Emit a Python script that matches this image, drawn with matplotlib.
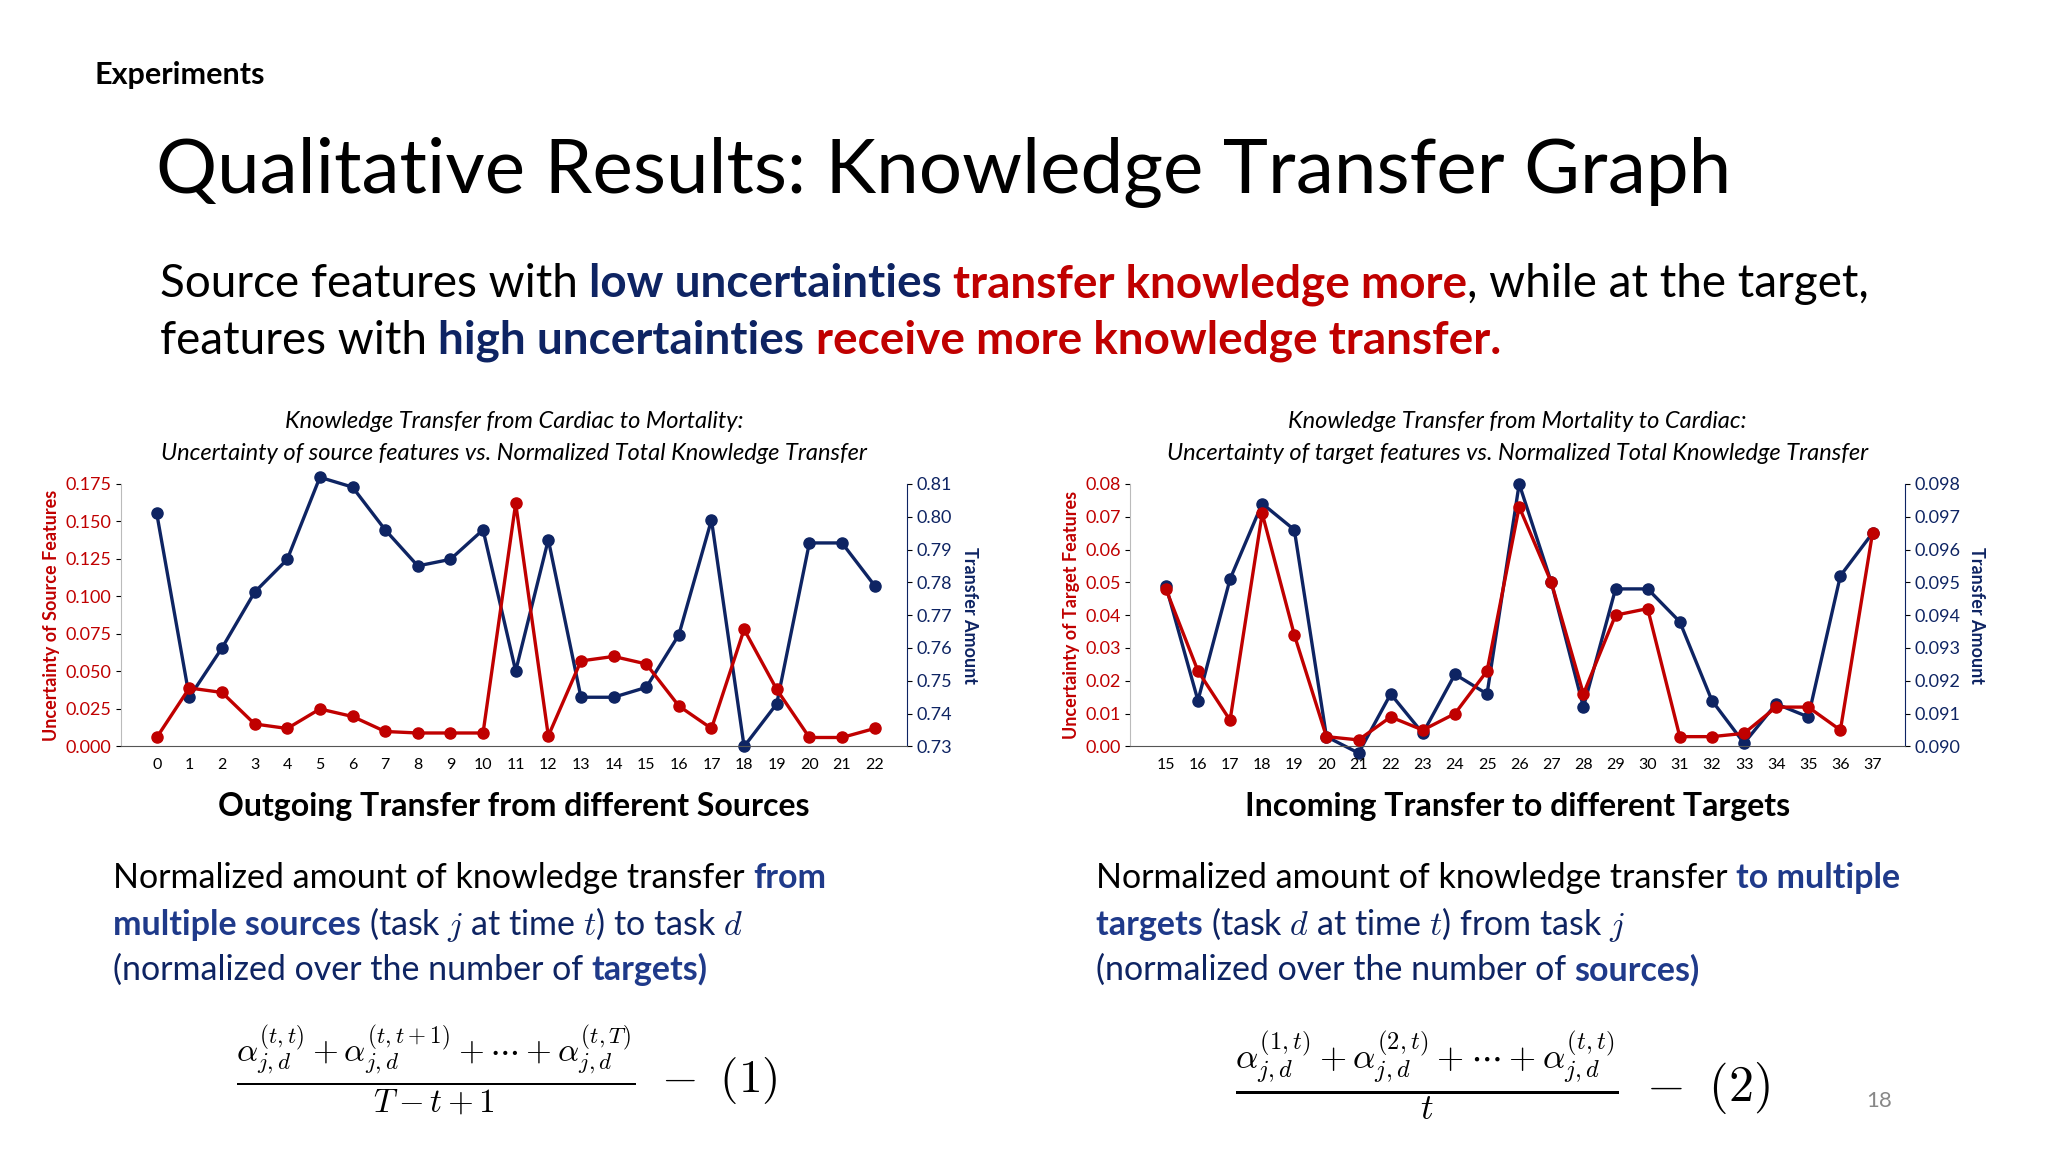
import numpy as np
import matplotlib.pyplot as plt

plt.rcParams['font.family'] = ['Lato', 'DejaVu Sans']
plt.rcParams['mathtext.fontset'] = 'cm'

RED = '#C00000'
NAVY = '#0E2463'
BLUE = '#1F3A8A'

# left chart: cardiac -> mortality
src_x = list(range(0, 23))
src_unc = [0.006, 0.039, 0.036, 0.015, 0.012, 0.025, 0.020, 0.010, 0.009, 0.009, 0.009, 0.162,
           0.007, 0.057, 0.060, 0.055, 0.027, 0.012, 0.078, 0.038, 0.006, 0.006, 0.012]
src_tr = [0.801, 0.745, 0.760, 0.777, 0.787, 0.812, 0.809, 0.796, 0.785, 0.787, 0.796, 0.753,
          0.793, 0.745, 0.745, 0.748, 0.764, 0.799, 0.730, 0.743, 0.792, 0.792, 0.779]

# right chart: mortality -> cardiac
tgt_x = list(range(15, 38))
tgt_unc = [0.048, 0.023, 0.008, 0.071, 0.034, 0.003, 0.002, 0.009, 0.005, 0.010, 0.023, 0.073,
           0.050, 0.016, 0.040, 0.042, 0.003, 0.003, 0.004, 0.012, 0.012, 0.005, 0.065]
tgt_tr = [0.0949, 0.0914, 0.0951, 0.0974, 0.0966, 0.0903, 0.0898, 0.0916, 0.0904, 0.0922, 0.0916, 0.0980,
          0.0950, 0.0912, 0.0948, 0.0948, 0.0938, 0.0914, 0.0901, 0.0913, 0.0909, 0.0952, 0.0965]

fig = plt.figure(figsize=(20.48, 11.52), dpi=100)
fig.patch.set_facecolor('white')
renderer = fig.canvas.get_renderer()


def rich(x, y, parts, size):
    # draw pieces of text side by side, each with its own colour / weight
    for txt, col, bold in parts:
        t = fig.text(x, y, txt, color=col, fontsize=size, fontweight='bold' if bold else 'normal',
                     va='baseline', ha='left')
        bb = t.get_window_extent(renderer)
        x += bb.width / fig.bbox.width


def chart(rect, xs, unc, tr, ylim1, yt1, fmt1, ylim2, yt2, fmt2, ylab, t1, t2, caption):
    ax = fig.add_axes(rect)
    ax2 = ax.twinx()
    ax.plot(xs, unc, color=RED, lw=2.4, marker='o', ms=8, zorder=3, clip_on=False)
    ax2.plot(xs, tr, color=NAVY, lw=2.4, marker='o', ms=8, clip_on=False)
    ax.set_zorder(ax2.get_zorder() + 1)
    ax.patch.set_visible(False)
    ax.set_xlim(xs[0] - 1.1, xs[-1] + 1.0)
    ax.set_ylim(*ylim1)
    ax.set_yticks(yt1)
    ax.set_yticklabels([fmt1.format(v) for v in yt1], color=RED, fontsize=13)
    ax2.set_ylim(*ylim2)
    ax2.set_yticks(yt2)
    ax2.set_yticklabels([fmt2.format(v) for v in yt2], color=NAVY, fontsize=13)
    ax.set_xticks(xs)
    ax.set_xticklabels([str(v) for v in xs], fontsize=11.5)
    ax.tick_params(axis='x', length=0, pad=8)
    ax.spines['top'].set_visible(False)
    ax.spines['right'].set_visible(False)
    ax2.spines['left'].set_visible(False)
    ax2.spines['bottom'].set_visible(False)
    ax2.spines['top'].set_visible(False)
    ax.spines['left'].set_color('#BBBBBB')
    ax2.spines['right'].set_color(NAVY)
    ax.spines['bottom'].set_color('#555555')
    ax.set_ylabel(ylab, color=RED, fontweight='bold', fontsize=13, labelpad=4)
    ax2.set_ylabel('Transfer Amount', color=NAVY, fontweight='bold', fontsize=13,
                   rotation=270, labelpad=18)
    cx = rect[0] + rect[2] / 2
    fig.text(cx, 0.634, t1, style='italic', fontsize=17, ha='center', va='center')
    fig.text(cx, 0.606, t2, style='italic', fontsize=17, ha='center', va='center')
    fig.text(cx, 0.300, caption, fontweight='bold', fontsize=23, ha='center', va='center')


chart([0.059, 0.352, 0.384, 0.228], src_x, src_unc, src_tr,
      (0, 0.175), np.arange(0, 0.176, 0.025), '{:.3f}',
      (0.73, 0.81), np.arange(0.73, 0.8101, 0.01), '{:.2f}',
      'Uncertainty of Source Features',
      'Knowledge Transfer from Cardiac to Mortality:',
      'Uncertainty of source features vs. Normalized Total Knowledge Transfer',
      'Outgoing Transfer from different Sources')

chart([0.552, 0.352, 0.378, 0.228], tgt_x, tgt_unc, tgt_tr,
      (0, 0.08), np.arange(0, 0.0801, 0.01), '{:.2f}',
      (0.090, 0.098), np.arange(0.090, 0.09801, 0.001), '{:.3f}',
      'Uncertainty of Target Features',
      'Knowledge Transfer from Mortality to Cardiac:',
      'Uncertainty of target features vs. Normalized Total Knowledge Transfer',
      'Incoming Transfer to different Targets')

# slide text
fig.text(0.046, 0.935, 'Experiments', fontsize=22, fontweight='bold', va='center')
fig.text(0.076, 0.850, 'Qualitative Results: Knowledge Transfer Graph', fontsize=55, va='center')
rich(0.078, 0.742, [('Source features with ', 'black', False),
                    ('low uncertainties ', NAVY, True),
                    ('transfer knowledge more', RED, True),
                    (', while at the target,', 'black', False)], 33)
rich(0.078, 0.693, [('features with ', 'black', False),
                    ('high uncertainties ', NAVY, True),
                    ('receive more knowledge transfer.', RED, True)], 33)

rich(0.055, 0.229, [('Normalized amount of knowledge transfer ', 'black', False),
                    ('from', BLUE, True)], 24.5)
rich(0.055, 0.188, [('multiple sources ', BLUE, True),
                    ('(task $j$ at time $t$) to task $d$', NAVY, False)], 24.5)
rich(0.055, 0.149, [('(normalized over the number of ', NAVY, False),
                    ('targets)', BLUE, True)], 24.5)

rich(0.535, 0.229, [('Normalized amount of knowledge transfer ', 'black', False),
                    ('to multiple', BLUE, True)], 24.5)
rich(0.535, 0.188, [('targets ', BLUE, True),
                    ('(task $d$ at time $t$) from task $j$', NAVY, False)], 24.5)
rich(0.535, 0.149, [('(normalized over the number of ', NAVY, False),
                    ('sources)', BLUE, True)], 24.5)

fig.text(0.115, 0.070,
         r'$\frac{\alpha_{j,d}^{(t,t)}+\alpha_{j,d}^{(t,t+1)}+\cdots+\alpha_{j,d}^{(t,T)}}{T-t+1}\ -\ (1)$',
         fontsize=34, va='center')
fig.text(0.603, 0.066,
         r'$\frac{\alpha_{j,d}^{(1,t)}+\alpha_{j,d}^{(2,t)}+\cdots+\alpha_{j,d}^{(t,t)}}{t}\ -\ (2)$',
         fontsize=36, va='center')
fig.text(0.911, 0.044, '18', fontsize=16, color='#888888', va='center')

fig.savefig('out.png', dpi=100)
